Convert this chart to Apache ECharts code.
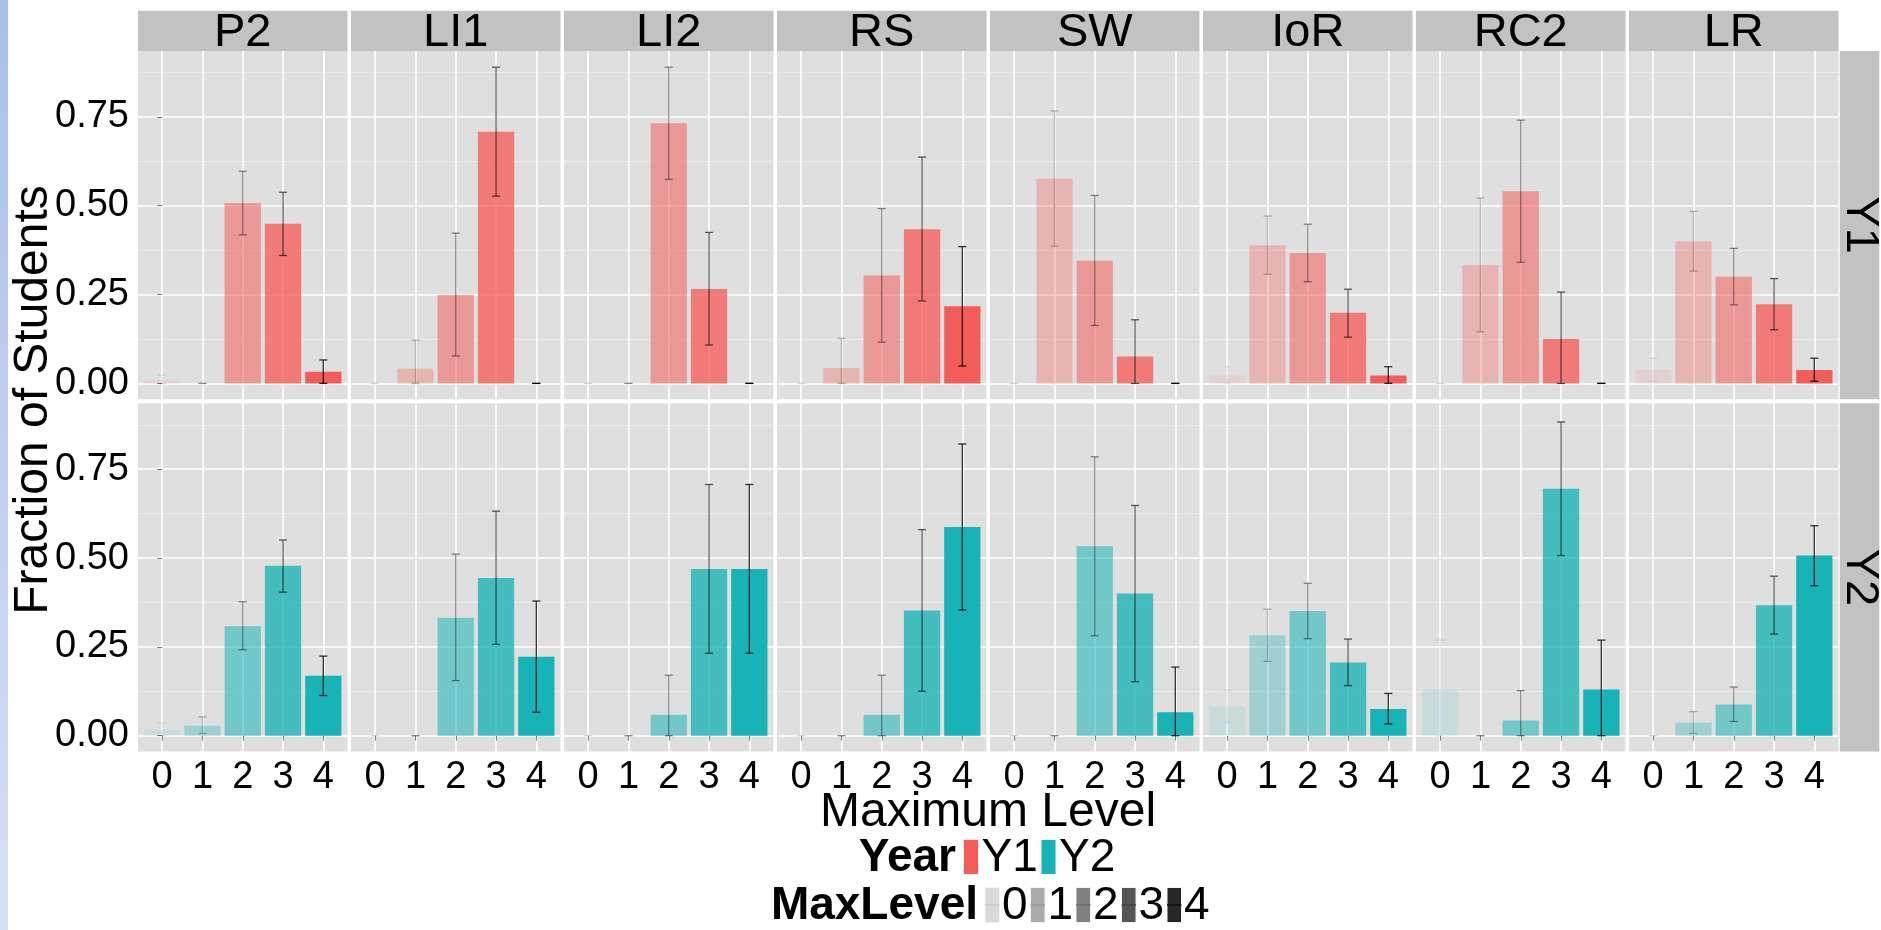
<!DOCTYPE html>
<html>
<head>
<meta charset="utf-8">
<script src="https://cdn.jsdelivr.net/npm/echarts@6/dist/echarts.min.js"></script>
<style>
  html, body { margin: 0; padding: 0; background: #ffffff; }
  #chart { width: 1881px; height: 930px; }
</style>
</head>
<body>
<div id="chart"></div>
<script>
// ---- data -------------------------------------------------------------
const facets = ['P2', 'LI1', 'LI2', 'RS', 'SW', 'IoR', 'RC2', 'LR'];
const years = ['Y1', 'Y2'];
const maxLevels = [0, 1, 2, 3, 4];
const yTickValues = [0, 0.25, 0.5, 0.75];
const yMinorValues = [0.125, 0.375, 0.625, 0.875];

// Fraction of students reaching each maximum level (one row per facet)
const fracY1 = [
  [0.008, 0.000, 0.508, 0.449, 0.033],
  [0.000, 0.041, 0.249, 0.708, 0.000],
  [0.000, 0.000, 0.732, 0.266, 0.000],
  [0.000, 0.043, 0.304, 0.434, 0.217],
  [0.000, 0.576, 0.345, 0.076, 0.000],
  [0.022, 0.389, 0.367, 0.199, 0.022],
  [0.000, 0.333, 0.541, 0.125, 0.000],
  [0.038, 0.399, 0.300, 0.223, 0.038]
];
const lowerY1 = [
  [0.000, 0.000, 0.418, 0.360, 0.000],
  [0.000, 0.000, 0.077, 0.527, 0.000],
  [0.000, 0.000, 0.574, 0.108, 0.000],
  [0.000, 0.000, 0.116, 0.232, 0.049],
  [0.000, 0.386, 0.163, 0.000, 0.000],
  [0.000, 0.307, 0.286, 0.130, 0.000],
  [0.000, 0.145, 0.341, 0.000, 0.000],
  [0.006, 0.316, 0.221, 0.151, 0.006]
];
const upperY1 = [
  [0.023, 0.000, 0.597, 0.538, 0.066],
  [0.000, 0.122, 0.423, 0.890, 0.000],
  [0.000, 0.000, 0.890, 0.425, 0.000],
  [0.000, 0.127, 0.492, 0.637, 0.385],
  [0.000, 0.767, 0.529, 0.179, 0.000],
  [0.047, 0.471, 0.448, 0.265, 0.047],
  [0.000, 0.522, 0.741, 0.257, 0.000],
  [0.071, 0.484, 0.380, 0.295, 0.071]
];
const fracY2 = [
  [0.017, 0.028, 0.308, 0.478, 0.169],
  [0.000, 0.000, 0.332, 0.444, 0.222],
  [0.000, 0.000, 0.059, 0.469, 0.469],
  [0.000, 0.000, 0.059, 0.352, 0.587],
  [0.000, 0.000, 0.533, 0.400, 0.066],
  [0.082, 0.283, 0.351, 0.206, 0.075],
  [0.130, 0.000, 0.043, 0.695, 0.130],
  [0.000, 0.037, 0.088, 0.367, 0.507]
];
const lowerY2 = [
  [0.000, 0.006, 0.242, 0.404, 0.113],
  [0.000, 0.000, 0.155, 0.257, 0.066],
  [0.000, 0.000, 0.000, 0.232, 0.232],
  [0.000, 0.000, 0.000, 0.125, 0.354],
  [0.000, 0.000, 0.281, 0.152, 0.000],
  [0.038, 0.209, 0.273, 0.141, 0.033],
  [0.000, 0.000, 0.000, 0.507, 0.000],
  [0.000, 0.006, 0.040, 0.286, 0.422]
];
const upperY2 = [
  [0.036, 0.053, 0.377, 0.551, 0.224],
  [0.000, 0.000, 0.511, 0.632, 0.379],
  [0.000, 0.000, 0.170, 0.707, 0.707],
  [0.000, 0.000, 0.170, 0.580, 0.821],
  [0.000, 0.000, 0.785, 0.648, 0.193],
  [0.128, 0.356, 0.429, 0.272, 0.119],
  [0.269, 0.000, 0.127, 0.883, 0.269],
  [0.000, 0.068, 0.137, 0.449, 0.591]
];

// ---- styling ----------------------------------------------------------
const FONT = '"Liberation Sans", Arial, Helvetica, sans-serif';
const yearRGB = [[243, 93, 89], [24, 179, 182]];
const levelAlpha = [0.1, 0.325, 0.55, 0.775, 1];
const levelKeyFill = ['#d9d9d9', '#ababab', '#808080', '#555555', '#262626'];
const levelKeyLine = ['#c8c8c8', '#999999', '#6c6c6c', '#404040', '#111111'];
const PANEL_BG = '#dfdfdf';
const STRIP_BG = '#c2c2c2';
const TICK_FONT = 38;

// facet grid geometry
const COL_LEFT = 138, COL_PITCH = 213, COL_W = 209.5;
const ROW_TOP = [51, 403.3], ROW_H = 348.2;
const STRIP_TOP = 10.7, STRIP_H = 40.3;
const RSTRIP_LEFT = 1839.8, RSTRIP_W = 39.5;
const Y_MIN = -0.0445, Y_MAX = 0.9355;
const X_MIN = -0.6, X_MAX = 4.6;

const fracs = [fracY1, fracY2], lowers = [lowerY1, lowerY2], uppers = [upperY1, upperY2];

const grids = [], xAxes = [], yAxes = [], minorYAxes = [], series = [];

// bar plus error bar for one max level, shaded by level
function makeRenderer(yearIdx) {
  const [r, g, b] = yearRGB[yearIdx];
  return function (params, api) {
    const lvl = api.value(0), v = api.value(1), lo = api.value(2), hi = api.value(3);
    const a = levelAlpha[lvl];
    const base = api.coord([lvl, 0]);
    const top = api.coord([lvl, v]);
    const barW = api.size([0.9, 0])[0];
    const capW = api.size([0.2, 0])[0];
    const pLo = api.coord([lvl, lo]);
    const pHi = api.coord([lvl, hi]);
    const errStyle = { stroke: 'rgba(0,0,0,' + (a * 0.8).toFixed(3) + ')', lineWidth: 1.3, fill: null };
    const children = [];
    if (v > 0) {
      children.push({
        type: 'rect',
        shape: { x: base[0] - barW / 2, y: top[1], width: barW, height: base[1] - top[1] },
        style: { fill: 'rgba(' + r + ',' + g + ',' + b + ',' + a + ')' }
      });
    }
    children.push(
      { type: 'line', shape: { x1: pHi[0], y1: pHi[1], x2: pLo[0], y2: pLo[1] }, style: errStyle },
      { type: 'line', shape: { x1: pHi[0] - capW / 2, y1: pHi[1], x2: pHi[0] + capW / 2, y2: pHi[1] }, style: errStyle },
      { type: 'line', shape: { x1: pLo[0] - capW / 2, y1: pLo[1], x2: pLo[0] + capW / 2, y2: pLo[1] }, style: errStyle }
    );
    return { type: 'group', children: children };
  };
}

years.forEach((year, ri) => {
  facets.forEach((facet, ci) => {
    const idx = ri * facets.length + ci;
    grids.push({
      left: COL_LEFT + ci * COL_PITCH, top: ROW_TOP[ri], width: COL_W, height: ROW_H,
      show: true, backgroundColor: PANEL_BG, borderWidth: 0, containLabel: false
    });
    xAxes.push({
      type: 'value', gridIndex: idx, min: X_MIN, max: X_MAX,
      axisLine: { show: false },
      axisTick: { show: ri === 1, customValues: maxLevels, length: 5, lineStyle: { color: '#7f7f7f', width: 1 } },
      axisLabel: { show: ri === 1, customValues: maxLevels, fontSize: TICK_FONT, color: '#000', fontFamily: FONT, margin: 7 },
      splitLine: { show: true, lineStyle: { color: '#ffffff', width: 1.6 } }
    });
    yAxes.push({
      type: 'value', gridIndex: idx, min: Y_MIN, max: Y_MAX, position: 'left',
      axisLine: { show: false },
      axisTick: { show: ci === 0, customValues: yTickValues, length: 5, lineStyle: { color: '#7f7f7f', width: 1 } },
      axisLabel: {
        show: ci === 0, customValues: yTickValues, fontSize: TICK_FONT, color: '#000', fontFamily: FONT, margin: 9,
        formatter: v => v.toFixed(2)
      },
      splitLine: { show: true, lineStyle: { color: '#ffffff', width: 1.6 } }
    });
    minorYAxes.push({
      type: 'value', gridIndex: idx, min: Y_MIN, max: Y_MAX, position: 'left',
      axisLine: { show: false },
      axisTick: { show: false, customValues: yMinorValues },
      axisLabel: { show: false },
      splitLine: { show: true, lineStyle: { color: '#e9e9e9', width: 1 } }
    });
    series.push({
      type: 'custom', name: facet + ' ' + year,
      xAxisIndex: idx, yAxisIndex: idx,
      renderItem: makeRenderer(ri),
      data: maxLevels.map(l => [l, fracs[ri][ci][l], lowers[ri][ci][l], uppers[ri][ci][l]]),
      silent: true, animation: false
    });
  });
});

// ---- strips, titles and legend ------------------------------------------
const graphics = [];
graphics.push({
  type: 'rect', shape: { x: 0, y: 0, width: 8, height: 930 },
  style: { fill: new echarts.graphic.LinearGradient(0, 0, 0, 1, [
    { offset: 0, color: '#a8c0ea' }, { offset: 1, color: '#d6e0f3' }
  ]) }, z: 0
});
facets.forEach((facet, ci) => {
  const x = COL_LEFT + ci * COL_PITCH;
  graphics.push({ type: 'rect', shape: { x: x, y: STRIP_TOP, width: COL_W, height: STRIP_H }, style: { fill: STRIP_BG } });
  graphics.push({
    type: 'text', x: x + COL_W / 2, y: STRIP_TOP + STRIP_H / 2 + 2,
    style: { text: facet, font: '47px ' + FONT, fill: '#000', align: 'center', verticalAlign: 'middle' }
  });
});
years.forEach((year, ri) => {
  graphics.push({ type: 'rect', shape: { x: RSTRIP_LEFT, y: ROW_TOP[ri], width: RSTRIP_W, height: ROW_H }, style: { fill: STRIP_BG } });
  graphics.push({
    type: 'text', x: RSTRIP_LEFT + RSTRIP_W / 2, y: ROW_TOP[ri] + ROW_H / 2, rotation: -Math.PI / 2,
    style: { text: year, font: '47px ' + FONT, fill: '#000', align: 'center', verticalAlign: 'middle' }
  });
});
graphics.push({
  type: 'text', x: 988, y: 813,
  style: { text: 'Maximum Level', font: '48px ' + FONT, fill: '#000', align: 'center', verticalAlign: 'middle' }
});
graphics.push({
  type: 'text', x: 34, y: 400, rotation: Math.PI / 2,
  style: { text: 'Fraction of Students', font: '48px ' + FONT, fill: '#000', align: 'center', verticalAlign: 'middle' }
});

// Year legend
graphics.push({
  type: 'text', x: 956, y: 858,
  style: { text: 'Year', font: 'bold 46px ' + FONT, fill: '#000', align: 'right', verticalAlign: 'middle' }
});
const yearKeyX = [963.5, 1041];
years.forEach((year, ri) => {
  const [r, g, b] = yearRGB[ri];
  graphics.push({ type: 'rect', shape: { x: yearKeyX[ri], y: 839.5, width: 15, height: 35 },
    style: { fill: 'rgb(' + r + ',' + g + ',' + b + ')', stroke: '#f4f4f4', lineWidth: 1 } });
  graphics.push({
    type: 'text', x: yearKeyX[ri] + 18, y: 858,
    style: { text: year, font: '46px ' + FONT, fill: '#000', align: 'left', verticalAlign: 'middle' }
  });
});

// MaxLevel legend
graphics.push({
  type: 'text', x: 978, y: 906,
  style: { text: 'MaxLevel', font: 'bold 46px ' + FONT, fill: '#000', align: 'right', verticalAlign: 'middle' }
});
maxLevels.forEach((lvl, k) => {
  const kx = 985 + 45.5 * k;
  graphics.push({ type: 'rect', shape: { x: kx, y: 887.5, width: 14.5, height: 35 },
    style: { fill: levelKeyFill[k], stroke: '#f4f4f4', lineWidth: 1 } });
  graphics.push({ type: 'line', shape: { x1: kx, y1: 905, x2: kx + 14.5, y2: 905 },
    style: { stroke: levelKeyLine[k], lineWidth: 1.5 } });
  graphics.push({
    type: 'text', x: kx + 17, y: 906,
    style: { text: String(lvl), font: '46px ' + FONT, fill: '#000', align: 'left', verticalAlign: 'middle' }
  });
});

const chart = echarts.init(document.getElementById('chart'), null, { renderer: 'canvas' });
chart.setOption({
  backgroundColor: '#ffffff',
  animation: false,
  textStyle: { fontFamily: FONT },
  grid: grids,
  xAxis: xAxes,
  yAxis: yAxes.concat(minorYAxes),
  series: series,
  graphic: graphics
});
</script>
</body>
</html>
